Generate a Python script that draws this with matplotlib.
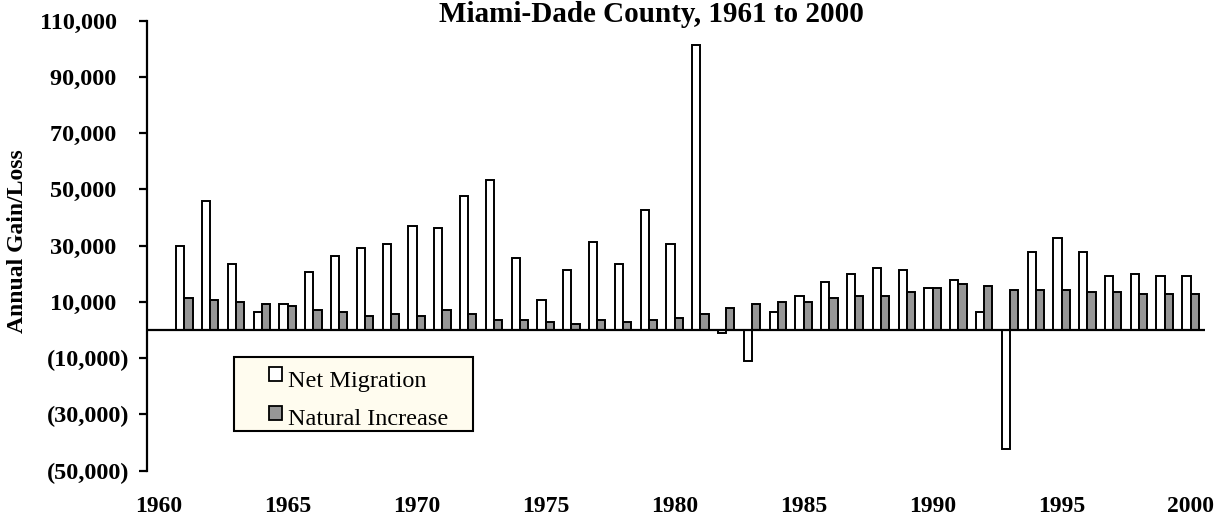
import numpy as np
import matplotlib
matplotlib.use("Agg")
import matplotlib.pyplot as plt
from matplotlib.patches import Rectangle
from matplotlib.ticker import FuncFormatter

# data
years = list(range(1961, 2001))
net_migration = [29900, 45700, 23400, 6300, 9100, 20600, 26300, 29100, 30600, 37000,
                 36300, 47700, 53400, 25600, 10600, 21300, 31300, 23400, 42700, 30600,
                 101300, -1000, -11000, 6300, 12000, 17000, 19900, 22000, 21300, 14900,
                 17700, 6300, -42400, 27700, 32700, 27700, 19100, 19900, 19100, 19100]
natural_increase = [11300, 10600, 10000, 9300, 8400, 7000, 6300, 4900, 5600, 4900,
                    7000, 5600, 3400, 3400, 2700, 2000, 3400, 2700, 3400, 4100,
                    5600, 7700, 9100, 9900, 9900, 11300, 12000, 12000, 13400, 14900,
                    16300, 15600, 14100, 14100, 14100, 13400, 13400, 12700, 12700, 12700]
series_names = ['Net Migration', 'Natural Increase']
series_colors = ['white', '#969696']
year_ticks = [1960, 1965, 1970, 1975, 1980, 1985, 1990, 1995, 2000]
value_ticks = [110000, 90000, 70000, 50000, 30000, 10000, -10000, -30000, -50000]

plt.rcParams['font.family'] = ['Liberation Serif', 'DejaVu Serif']

W, H = 1218, 518
fig = plt.figure(figsize=(W / 100, H / 100), dpi=100)
ax = fig.add_axes([147 / W, 1 - 470.5 / H, (1205 - 147) / W, (470.5 - 20.7) / H])


def fx(px):
    return px / W


def fy(py):
    return 1 - py / H


x = np.array(years)
bw = 0.32
ax.bar(x - bw / 2, net_migration, width=bw, color=series_colors[0],
       edgecolor='black', linewidth=1.4, zorder=2)
ax.bar(x + bw / 2, natural_increase, width=bw, color=series_colors[1],
       edgecolor='black', linewidth=1.4, zorder=2)
ax.axhline(0, color='black', linewidth=1.6, zorder=3)

ax.set_xlim(1959.55, 2000.56)
ax.set_ylim(-50000, 110000)

# excel style: #,##0_);(#,##0)
ax.set_yticks(value_ticks)
ax.yaxis.set_major_formatter(FuncFormatter(
    lambda v, p: '({:,.0f})'.format(-v) if v < 0 else '{:,.0f}  '.format(v)))
ax.set_xticks(year_ticks)
ax.set_xticklabels([str(y) for y in year_ticks])

ax.tick_params(axis='y', direction='out', length=6, width=1.6, pad=7,
               labelsize=17.5)
ax.tick_params(axis='x', length=0, pad=18, labelsize=17)
for lab in ax.get_xticklabels() + ax.get_yticklabels():
    lab.set_fontweight('bold')

for s in ['top', 'right', 'bottom']:
    ax.spines[s].set_visible(False)
ax.spines['left'].set_linewidth(1.6)

ax.set_ylabel('Annual Gain/Loss', fontsize=17, fontweight='bold')
ax.yaxis.set_label_coords((28 - 147) / (1205 - 147), 0.509)

fig.text(fx(651), fy(21.5), 'Miami-Dade County, 1961 to 2000', ha='center',
         va='baseline', fontsize=21, fontweight='bold')

# legend box, drawn like the excel one
fig.patches.append(Rectangle((fx(234), fy(431)), fx(473) - fx(234), fy(357) - fy(431),
                             transform=fig.transFigure, facecolor='#FFFCEF',
                             edgecolor='black', linewidth=1.5, zorder=5))
for name, color, sq_top, base in zip(series_names, series_colors, [367, 406], [386.5, 425]):
    fig.patches.append(Rectangle((fx(269), fy(sq_top + 13.5)), fx(12.6), 13.5 / H,
                                 transform=fig.transFigure, facecolor=color,
                                 edgecolor='black', linewidth=1.3, zorder=6))
    fig.text(fx(288), fy(base), name, ha='left', va='baseline', fontsize=17.5,
             zorder=7)

fig.savefig('out.png', dpi=100)
